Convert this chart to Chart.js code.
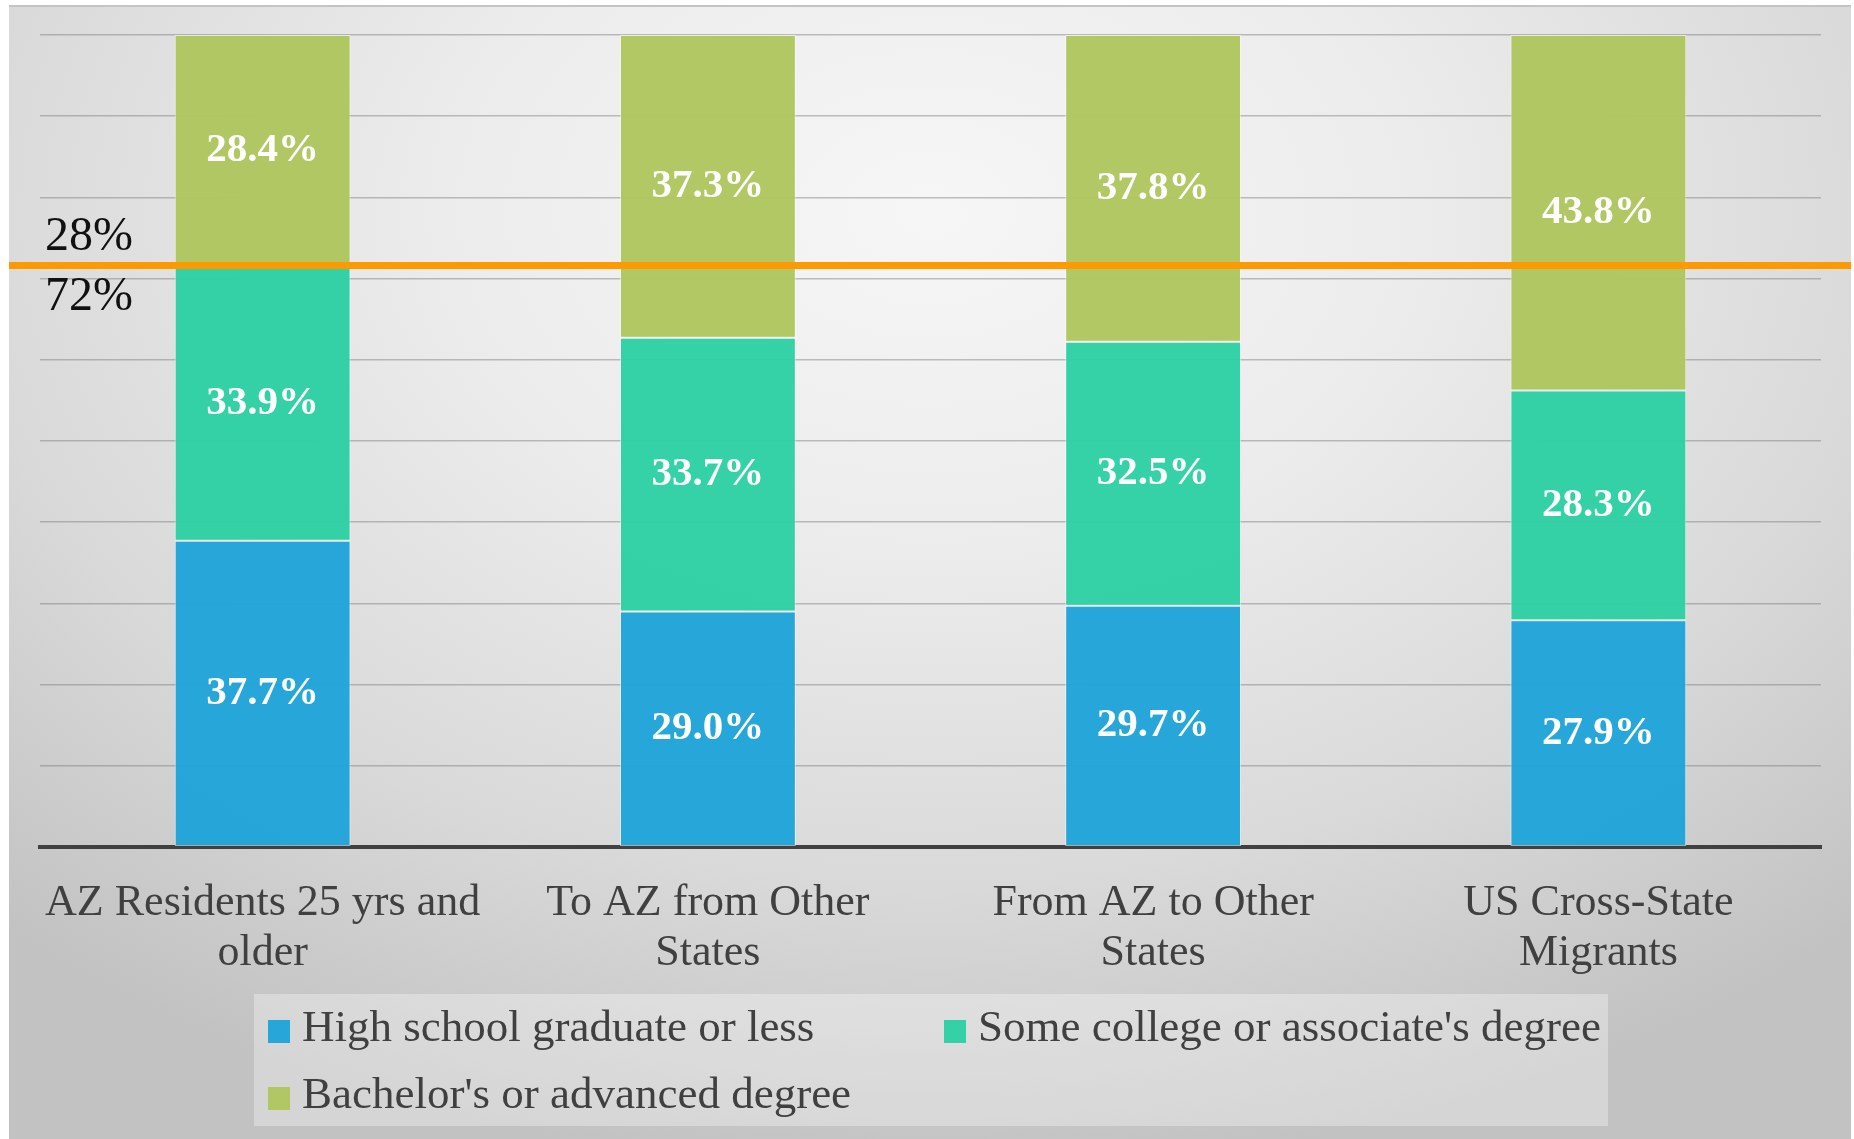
<!DOCTYPE html>
<html>
<head>
<meta charset="utf-8">
<script src="https://cdn.jsdelivr.net/npm/chart.js@4/dist/chart.umd.min.js"></script>
<style>
  body { margin: 0; background: #fff; overflow: hidden; }
  #wrap { position: relative; width: 1854px; height: 1139px; }
  /* slide-like gradient panel behind the chart */
  #panel {
    position: absolute; left: 9px; top: 5px; width: 1842px; height: 1134px;
    border-top: 2px solid #c4c4c4;
    background: radial-gradient(ellipse 75% 85% at 50% 18%, #f6f6f6 0%, #ececec 35%, #d9d9d9 70%, #c2c2c2 100%);
  }
  #chart { position: absolute; left: 0; top: 0; }
  #legend {
    position: absolute; left: 254px; top: 994px; width: 1354px; height: 132px;
    background: rgba(255,255,255,0.32);
    font-family: "Liberation Serif", serif; font-size: 45px; color: #404040;
  }
  .item { position: absolute; white-space: nowrap; line-height: 1; }
  .item span.box { display: inline-block; width: 22px; height: 23px; margin-right: 12px; vertical-align: -2px; }
</style>
</head>
<body>
<div id="wrap">
  <div id="panel"></div>
  <canvas id="chart" width="1854" height="1139"></canvas>
  <div id="legend"></div>
</div>
<script>
// categories and series (percent of each group)
const categories = [
  ["AZ Residents 25 yrs and", "older"],
  ["To AZ from Other", "States"],
  ["From AZ to Other", "States"],
  ["US Cross-State", "Migrants"]
];
const seriesNames = ["High school graduate or less", "Some college or associate's degree", "Bachelor's or advanced degree"];
const highSchool = [37.7, 29.0, 29.7, 27.9];
const someCollege = [33.9, 33.7, 32.5, 28.3];
const bachelors = [28.4, 37.3, 37.8, 43.8];

// reference line: share of AZ residents without / with a bachelor's degree
const refLineValue = 71.6;
const refLabelAbove = "28%";
const refLabelBelow = "72%";

const colors = ["rgba(31,163,217,0.96)", "rgba(46,208,163,0.96)", "rgba(174,198,94,0.96)"];

// white value labels in the middle of each segment
const segmentLabels = {
  id: "segmentLabels",
  afterDatasetsDraw(chart) {
    const ctx = chart.ctx;
    ctx.save();
    ctx.fillStyle = "#ffffff";
    ctx.font = "bold 41px 'Liberation Serif'";
    ctx.textAlign = "center";
    ctx.textBaseline = "middle";
    chart.data.datasets.forEach((ds, i) => {
      const meta = chart.getDatasetMeta(i);
      meta.data.forEach((bar, j) => {
        const c = bar.getCenterPoint();
        ctx.fillText(ds.data[j].toFixed(1) + "%", c.x, c.y);
      });
    });
    ctx.restore();
  }
};

// orange divider line with its two labels
const refLine = {
  id: "refLine",
  afterDraw(chart) {
    const ctx = chart.ctx;
    const y = chart.scales.y.getPixelForValue(refLineValue);
    ctx.save();
    ctx.strokeStyle = "#ff9900";
    ctx.lineWidth = 7;
    ctx.beginPath();
    ctx.moveTo(9, y);
    ctx.lineTo(1851, y);
    ctx.stroke();
    ctx.fillStyle = "#111";
    ctx.font = "48px 'Liberation Serif'";
    ctx.textAlign = "left";
    ctx.textBaseline = "alphabetic";
    ctx.fillText(refLabelAbove, 45, y - 16);
    ctx.fillText(refLabelBelow, 45, y + 44);
    ctx.restore();
  }
};

const chart = new Chart(document.getElementById("chart"), {
  type: "bar",
  data: {
    labels: categories,
    datasets: [
      { label: seriesNames[0], data: highSchool, backgroundColor: colors[0] },
      { label: seriesNames[1], data: someCollege, backgroundColor: colors[1] },
      { label: seriesNames[2], data: bachelors, backgroundColor: colors[2] }
    ].map(d => Object.assign(d, {
      borderColor: "rgba(255,255,255,0.55)",
      borderWidth: 1,
      borderSkipped: false,
      barPercentage: 0.395,
      categoryPercentage: 1.0
    }))
  },
  options: {
    responsive: false,
    animation: false,
    layout: { padding: { left: 40, right: 33, top: 35, bottom: 137 } },
    plugins: { legend: { display: false }, tooltip: { enabled: false } },
    scales: {
      x: {
        stacked: true,
        grid: { display: false },
        border: { display: true, color: "#404040", width: 4 },
        ticks: {
          color: "#404040",
          padding: 23,
          maxRotation: 0,
          autoSkip: false,
          font: { family: "'Liberation Serif'", size: 44, lineHeight: 1.15 }
        }
      },
      y: {
        stacked: true,
        min: 0,
        max: 100,
        ticks: { display: false, stepSize: 10 },
        border: { display: false },
        grid: {
          drawTicks: false,
          lineWidth: 1.5,
          color: (c) => c.tick && c.tick.value === 0 ? "rgba(0,0,0,0)" : "rgba(120,120,120,0.45)"
        }
      }
    }
  },
  plugins: [segmentLabels, refLine]
});

// legend laid out like the original (two columns, wrapped)
const legendPos = [
  { left: 14, top: 10 },
  { left: 690, top: 10 },
  { left: 14, top: 77 }
];
const legend = document.getElementById("legend");
seriesNames.forEach((name, i) => {
  const el = document.createElement("div");
  el.className = "item";
  el.style.left = legendPos[i].left + "px";
  el.style.top = legendPos[i].top + "px";
  el.innerHTML = '<span class="box" style="background:' + colors[i] + '"></span>' + name;
  legend.appendChild(el);
});
</script>
</body>
</html>
